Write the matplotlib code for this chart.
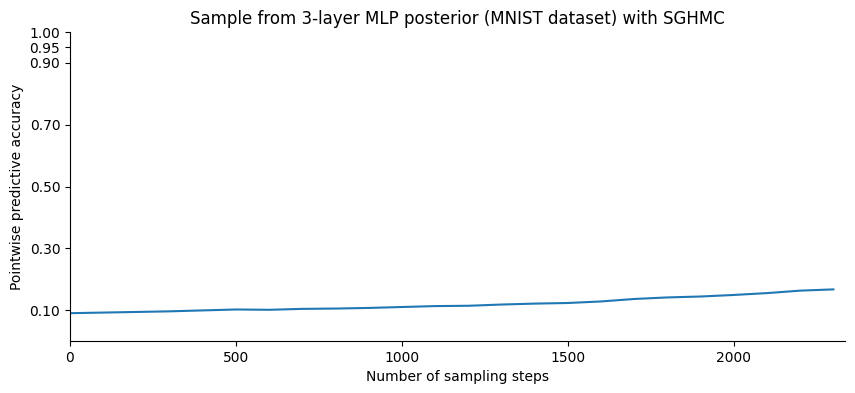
import matplotlib
matplotlib.use("Agg")
import matplotlib.pyplot as plt

steps = list(range(0, 2400, 100))
accuracy = [0.090, 0.092, 0.094, 0.096, 0.099, 0.102, 0.101, 0.104, 0.105, 0.107,
            0.110, 0.113, 0.114, 0.118, 0.121, 0.123, 0.128, 0.136, 0.141, 0.144,
            0.149, 0.155, 0.163, 0.167]
yticks = [0.10, 0.30, 0.50, 0.70, 0.90, 0.95, 1.00]

fig = plt.figure(figsize=(8.55, 3.93), dpi=100)
ax = fig.add_axes([70/855, 1-341/393, (845-70)/855, (341-32)/393])
ax.plot(steps, accuracy, color="#1f77b4", lw=1.5)
ax.set_xlim(0, 2335)
ax.set_ylim(0, 1.0)
ax.set_yticks(yticks)
ax.set_yticklabels([f"{v:.2f}" for v in yticks])
ax.set_xticks([0, 500, 1000, 1500, 2000])
ax.spines["top"].set_visible(False)
ax.spines["right"].set_visible(False)
ax.set_xlabel("Number of sampling steps")
ax.set_ylabel("Pointwise predictive accuracy")
ax.set_title("Sample from 3-layer MLP posterior (MNIST dataset) with SGHMC")
fig.savefig("out.png", dpi=100)
